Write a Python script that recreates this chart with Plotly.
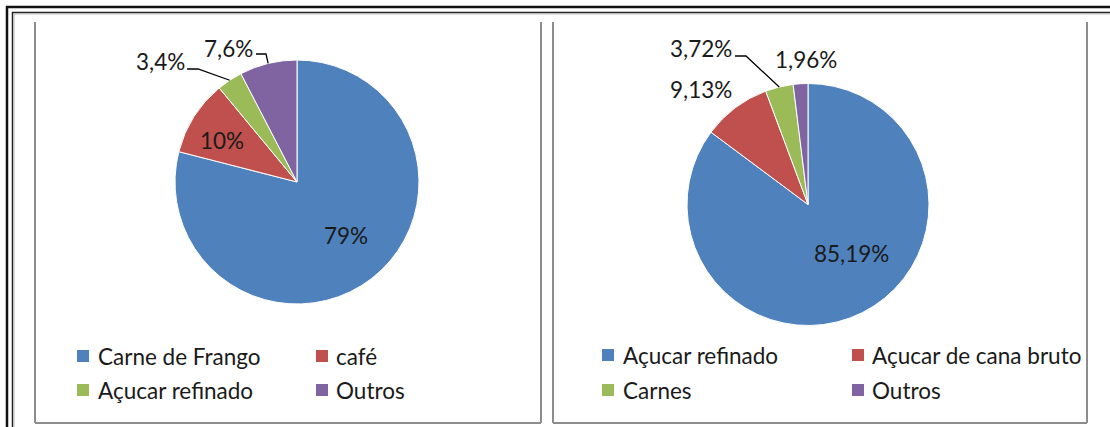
import math
import plotly.graph_objects as go

W, H = 1110, 427

# ---------------- data ----------------
labels_left = ["Carne de Frango", "café", "Açucar refinado", "Outros"]
values_left = [79.0, 10.0, 3.4, 7.6]
text_left = ["79%", "10%", "3,4%", "7,6%"]

labels_right = ["Açucar refinado", "Açucar de cana bruto", "Carnes", "Outros"]
values_right = [85.19, 9.13, 3.72, 1.96]
text_right = ["85,19%", "9,13%", "3,72%", "1,96%"]

colors = ["#4F81BD", "#C0504D", "#9BBB59", "#8064A2"]

FONT = "Lato"
FS = 22.5
TXT = "#1a1a1a"


def px(x):
    return x / W


def py(y):
    return 1 - y / H


# pie geometry (pixels)
pies = [
    dict(cx=297, cy=182, r=122, labels=labels_left, values=values_left, text=text_left,
         lab=[(346, 236), (222, 141), (160, 62), (228, 48)],
         leaders={2: [(187, 69), (198, 69)], 3: [(256, 54), (266, 54)]},
         legend=dict(sq=[77, 316], tx=[96, 334], rows=[356, 390])),
    dict(cx=808, cy=204.5, r=121, labels=labels_right, values=values_right, text=text_right,
         lab=[(851, 253), (701, 89), (701, 48), (806, 60)],
         leaders={2: [(735, 56), (746, 56)]},
         legend=dict(sq=[602, 852], tx=[621, 870], rows=[355, 390])),
]

fig = go.Figure()
shapes = []
annotations = []

for p in pies:
    cx, cy, r = p["cx"], p["cy"], p["r"]
    fig.add_trace(go.Pie(
        labels=p["labels"], values=p["values"],
        sort=False, direction="clockwise", rotation=0,
        marker=dict(colors=colors, line=dict(color="white", width=1)),
        textinfo="none", hoverinfo="label+percent", showlegend=False,
        domain=dict(x=[px(cx - r), px(cx + r)], y=[py(cy + r), py(cy - r)]),
    ))
    total = sum(p["values"])
    cum = 0.0
    for i, v in enumerate(p["values"]):
        mid = (cum + v / 2) / total * 2 * math.pi
        cum += v
        lx, ly = p["lab"][i]
        annotations.append(dict(x=px(lx), y=py(ly), xref="paper", yref="paper",
                                xanchor="center", yanchor="middle",
                                text=p["text"][i], showarrow=False,
                                font=dict(family=FONT, size=FS, color=TXT)))
        if i in p["leaders"]:
            ex = cx + r * math.sin(mid)
            ey = cy - r * math.cos(mid)
            pts = p["leaders"][i] + [(ex, ey)]
            path = "M " + " L ".join(f"{px(a):.5f},{py(b):.5f}" for a, b in pts)
            shapes.append(dict(type="path", path=path, xref="paper", yref="paper",
                               line=dict(color="#000000", width=1.3)))
    # legend (manual, 2 columns)
    lg = p["legend"]
    for i, name in enumerate(p["labels"]):
        col, row = i % 2, i // 2
        sx, yy = lg["sq"][col], lg["rows"][row]
        s = 12
        shapes.append(dict(type="rect", xref="paper", yref="paper",
                           x0=px(sx), x1=px(sx + s), y0=py(yy + s / 2), y1=py(yy - s / 2),
                           fillcolor=colors[i], line=dict(width=0)))
        annotations.append(dict(x=px(lg["tx"][col]), y=py(yy), xref="paper", yref="paper",
                                text=name, showarrow=False, xanchor="left", yanchor="middle",
                                font=dict(family=FONT, size=FS, color=TXT)))


def line(x0, y0, x1, y1, color, width):
    shapes.append(dict(type="line", xref="paper", yref="paper",
                       x0=px(x0), y0=py(y0), x1=px(x1), y1=py(y1),
                       line=dict(color=color, width=width)))


# outer double frame
line(6, 7, W, 7, "#111111", 2.5)
line(7, 6, 7, H, "#111111", 2.5)
line(12, 12.5, W, 12.5, "#222222", 1.5)
line(12.5, 12, 12.5, H, "#222222", 1.5)
line(14, 14, W, 14, "#bbbbbb", 1)
line(14, 14, 14, H, "#bbbbbb", 1)

# panel borders
PC = "#8c8c8c"
for (l, rr) in [(35, 541), (553, 1087)]:
    line(l, 22, l, 423, PC, 2)
    line(rr, 22, rr, 423, PC, 2)
    line(l, 423, rr, 423, PC, 2)

fig.update_layout(
    width=W, height=H,
    margin=dict(l=0, r=0, t=0, b=0),
    paper_bgcolor="white", plot_bgcolor="white",
    shapes=shapes, annotations=annotations,
    showlegend=False,
)

fig.write_html("out.html", config={"displayModeBar": False},
               post_script="document.body.style.margin='0';document.body.style.overflow='hidden';")
